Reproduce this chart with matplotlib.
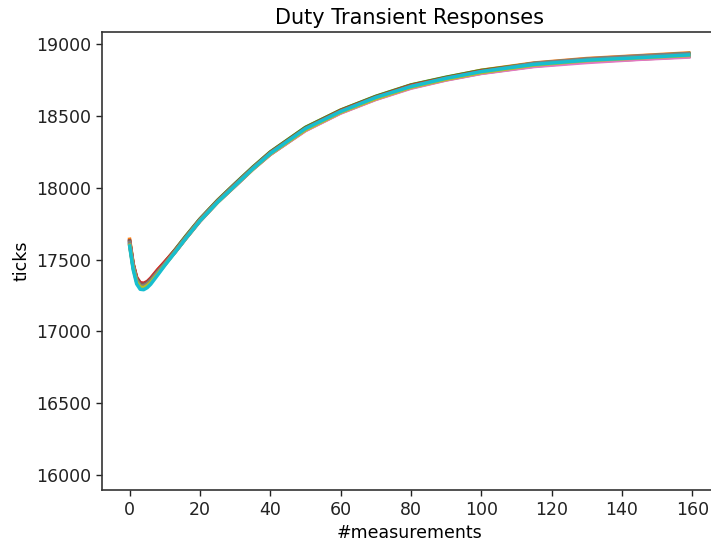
import numpy as np
import matplotlib.pyplot as plt

# measurement index at which each run was sampled
medidas = [0, 1, 2, 3, 4, 5, 6, 8, 10, 13, 16, 20, 25, 30, 35, 40,
           50, 60, 70, 80, 90, 100, 115, 130, 145, 159]

# duty ticks for each run
corrida_0 = [17610, 17450, 17356, 17318, 17314, 17329, 17351, 17413, 17474, 17562, 17654, 17777, 17904,
             18022, 18136, 18241, 18414, 18532, 18631, 18707, 18764, 18810, 18861, 18892, 18910, 18930]
corrida_1 = [17641, 17472, 17369, 17334, 17329, 17344, 17366, 17428, 17482, 17568, 17661, 17779, 17911,
             18026, 18139, 18247, 18418, 18539, 18634, 18714, 18767, 18817, 18868, 18899, 18919, 18938]
corrida_2 = [17622, 17458, 17359, 17324, 17319, 17333, 17358, 17418, 17480, 17570, 17664, 17783, 17912,
             18029, 18143, 18249, 18420, 18540, 18636, 18715, 18769, 18816, 18864, 18893, 18913, 18933]
corrida_3 = [17627, 17468, 17376, 17339, 17335, 17347, 17371, 17430, 17484, 17566, 17657, 17779, 17907,
             18024, 18137, 18244, 18414, 18536, 18631, 18711, 18764, 18812, 18860, 18890, 18909, 18926]
corrida_4 = [17604, 17445, 17349, 17314, 17309, 17323, 17346, 17408, 17467, 17556, 17651, 17772, 17903,
             18016, 18132, 18236, 18405, 18524, 18623, 18699, 18755, 18803, 18849, 18878, 18899, 18915]
corrida_5 = [17631, 17466, 17367, 17331, 17326, 17340, 17363, 17420, 17470, 17553, 17646, 17766, 17898,
             18011, 18127, 18231, 18399, 18521, 18616, 18695, 18751, 18797, 18846, 18877, 18895, 18913]
corrida_6 = [17614, 17452, 17352, 17317, 17312, 17327, 17349, 17410, 17466, 17554, 17649, 17769, 17900,
             18013, 18128, 18232, 18397, 18519, 18614, 18692, 18749, 18795, 18843, 18871, 18893, 18909]
corrida_7 = [17619, 17455, 17358, 17319, 17318, 17329, 17355, 17414, 17472, 17563, 17656, 17778, 17906,
             18023, 18136, 18242, 18409, 18531, 18626, 18706, 18761, 18807, 18866, 18896, 18917, 18934]
corrida_8 = [17600, 17440, 17344, 17309, 17304, 17319, 17341, 17401, 17462, 17554, 17648, 17770, 17898,
             18014, 18128, 18234, 18402, 18524, 18619, 18698, 18754, 18801, 18853, 18884, 18903, 18920]
corrida_9 = [17594, 17430, 17330, 17293, 17290, 17304, 17328, 17393, 17459, 17553, 17648, 17769, 17899,
             18015, 18131, 18238, 18411, 18530, 18628, 18704, 18761, 18808, 18858, 18887, 18905, 18924]

corridas = [corrida_0, corrida_1, corrida_2, corrida_3, corrida_4,
            corrida_5, corrida_6, corrida_7, corrida_8, corrida_9]

plt.rcParams['font.size'] = 12.5

fig = plt.figure(figsize=(7.11, 5.44), dpi=100)
ax = fig.add_axes([0.143, 0.0993, 0.865, 0.842])

for c in corridas:
    ax.plot(medidas, c, lw=2.5)

ax.set_xlim(-7.95, 166.95)
ax.set_ylim(15896, 19084)
ax.set_xticks(np.arange(0, 161, 20))
ax.set_yticks(np.arange(16000, 19001, 500))
ax.tick_params(length=6 * 72 / 100, width=1.0, colors='#222222')
for s in ax.spines.values():
    s.set_linewidth(1.2)
    s.set_color('#333333')

ax.set_title("Duty Transient Responses")
ax.set_xlabel("#measurements")
ax.set_ylabel("ticks")

fig.savefig("out.png", dpi=100)
